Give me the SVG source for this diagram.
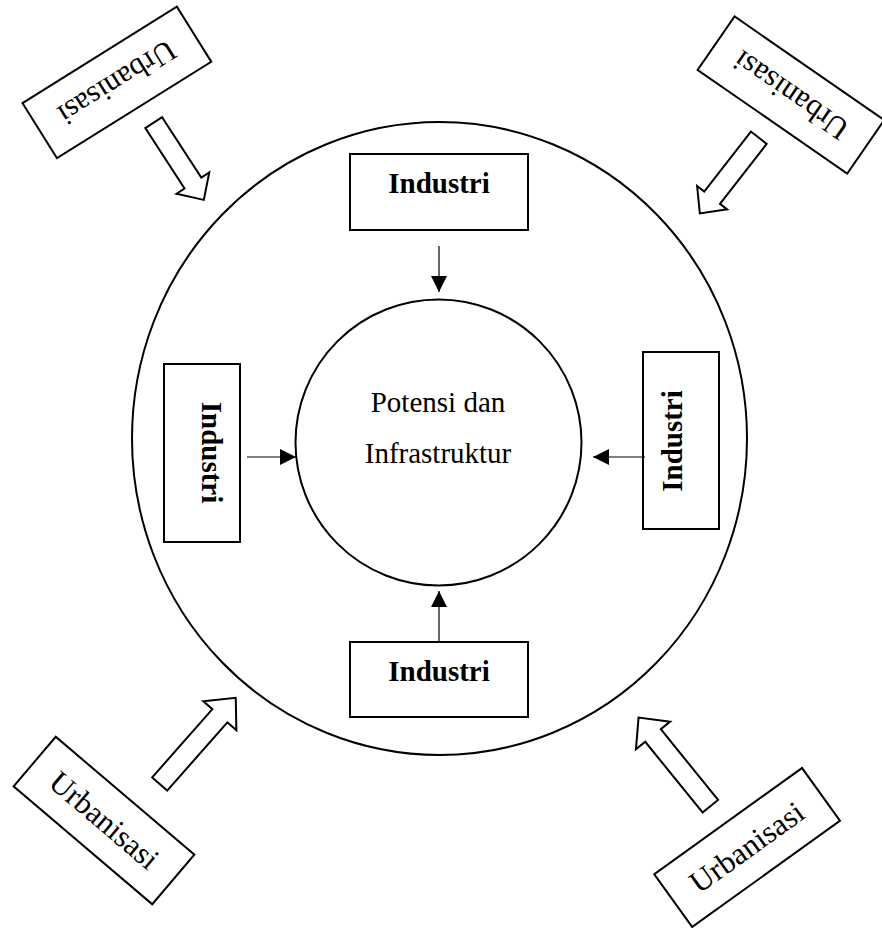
<svg xmlns="http://www.w3.org/2000/svg" width="882" height="928" viewBox="0 0 882 928">
<style>
  .box{fill:#fff;stroke:#000;stroke-width:2}
  .circ{fill:none;stroke:#000;stroke-width:2}
  .blk{fill:#fff;stroke:#000;stroke-width:2;stroke-linejoin:miter}
  .con{stroke:#000;stroke-width:1.2;fill:none}
  .ind{font-family:"Liberation Serif","Times New Roman",serif;font-weight:bold;font-size:29px;fill:#000;text-anchor:middle}
  .urb{font-family:"Liberation Serif","Times New Roman",serif;font-size:31px;fill:#000;text-anchor:middle}
  .pot{font-family:"Liberation Serif","Times New Roman",serif;font-size:29px;fill:#000;text-anchor:middle}
</style>
<defs>
  <marker id="ah" markerUnits="userSpaceOnUse" markerWidth="18" markerHeight="16" refX="16" refY="8" orient="auto">
    <path d="M0,0 L16,8 L0,16 Z" fill="#000"/>
  </marker>
</defs>
<rect width="882" height="928" fill="#fff"/>

<g id="outer-circle"><ellipse class="circ" cx="439.5" cy="438.5" rx="307.5" ry="316.5"/></g>

<g id="center">
  <circle class="circ" cx="438.5" cy="442.5" r="143"/>
  <text class="pot" x="438" y="412">Potensi dan</text>
  <text class="pot" x="438" y="463">Infrastruktur</text>
</g>

<g id="industri-top">
  <rect class="box" x="350" y="154" width="178" height="76"/>
  <text class="ind" x="439" y="193">Industri</text>
</g>
<g id="industri-bottom">
  <rect class="box" x="350" y="642" width="178" height="75"/>
  <text class="ind" x="439" y="681">Industri</text>
</g>
<g id="industri-left">
  <rect class="box" x="164" y="364" width="76" height="178"/>
  <text class="ind" transform="translate(202,452.5) rotate(90)" x="0" y="0">Industri</text>
</g>
<g id="industri-right">
  <rect class="box" x="643" y="352" width="76" height="177"/>
  <text class="ind" transform="translate(682,441) rotate(-90)" x="0" y="0">Industri</text>
</g>

<g id="urbanisasi-tl" transform="translate(116.9,82.4) rotate(148)">
  <rect class="box" x="-91" y="-32.5" width="182" height="65"/>
  <text class="urb" x="0" y="10">Urbanisasi</text>
</g>
<g id="urbanisasi-tr" transform="translate(790.9,95) rotate(214.7)">
  <rect class="box" x="-91" y="-32.5" width="182" height="65"/>
  <text class="urb" x="0" y="10">Urbanisasi</text>
</g>
<g id="urbanisasi-bl" transform="translate(104,820.5) rotate(40.4)">
  <rect class="box" x="-91" y="-32.5" width="182" height="65"/>
  <text class="urb" x="0" y="10">Urbanisasi</text>
</g>
<g id="urbanisasi-br" transform="translate(747.1,847.5) rotate(-35.7)">
  <rect class="box" x="-91" y="-32.5" width="182" height="65"/>
  <text class="urb" x="0" y="10">Urbanisasi</text>
</g>

<g id="connectors">
  <line class="con" x1="439" y1="246" x2="439" y2="292" marker-end="url(#ah)"/>
  <line class="con" x1="439" y1="642" x2="439" y2="591" marker-end="url(#ah)"/>
  <line class="con" x1="247" y1="457" x2="296" y2="457" marker-end="url(#ah)"/>
  <line class="con" x1="645" y1="457" x2="593" y2="457" marker-end="url(#ah)"/>
  <path class="blk" transform="translate(153.7,122.7) rotate(57)" d="M0,-10 L72,-10 L72,-19.5 L92,0 L72,19.5 L72,10 L0,10 Z"/>
  <path class="blk" transform="translate(758.8,137.7) rotate(127.9)" d="M0,-10 L76,-10 L76,-19 L96,0 L76,19 L76,10 L0,10 Z"/>
  <path class="blk" transform="translate(159.7,784) rotate(-48.6)" d="M0,-10 L91,-10 L91,-22 L115,0 L91,22 L91,10 L0,10 Z"/>
  <path class="blk" transform="translate(710.3,806.2) rotate(-129)" d="M0,-10 L91,-10 L91,-22 L114,0 L91,22 L91,10 L0,10 Z"/>
</g>
</svg>
